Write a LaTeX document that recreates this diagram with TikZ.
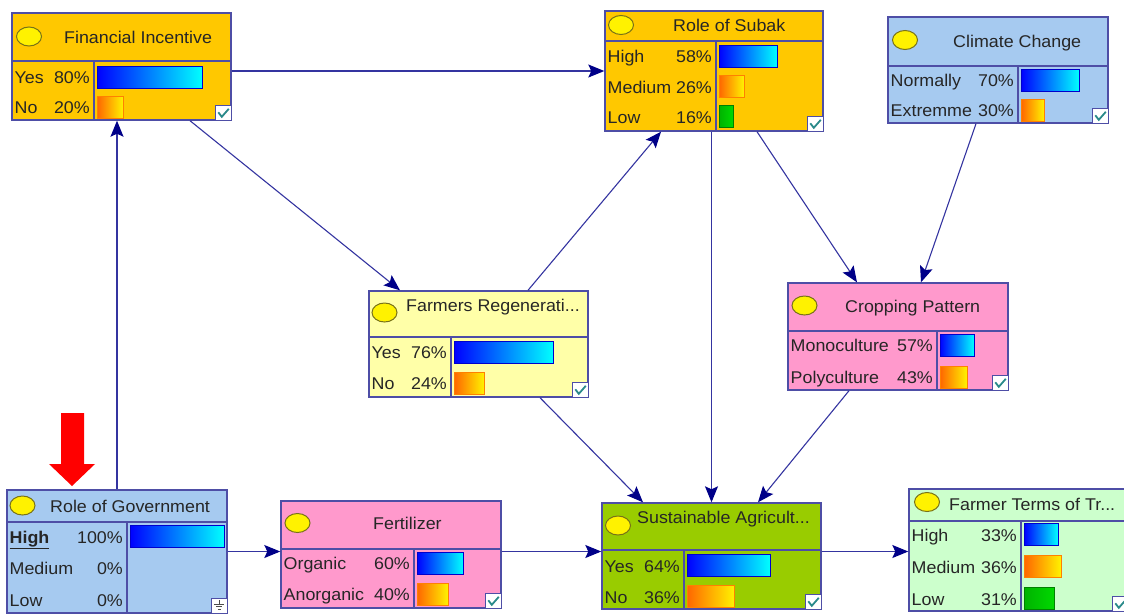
\documentclass[tikz,border=0pt]{standalone}
\usepackage{fontspec}
\setmainfont{Liberation Sans}[FakeStretch=1.05]
\usetikzlibrary{arrows.meta}

\definecolor{bngold}{HTML}{FFC800}
\definecolor{bnsky}{HTML}{A6CAF0}
\definecolor{bncream}{HTML}{FFFFA8}
\definecolor{bnpink}{HTML}{FF99CC}
\definecolor{bnlime}{HTML}{99CC00}
\definecolor{bnmint}{HTML}{CCFFCC}
\definecolor{bnframe}{HTML}{4E4EA6}
\definecolor{bnlink}{HTML}{3434A0}
\definecolor{bnhead}{HTML}{000088}
\definecolor{bntick}{HTML}{2A8A8A}

\newcommand\bnfont{\fontsize{17}{20}\selectfont}
\newcommand\bnsplit[3]{\draw[bnline] (#1.west |- 0,#2) -- (#1.east |- 0,#2) (#3,#2) -- (#3,0 |- #1.south);}
\newcommand\bnhead[6]{\draw[bnoval] (#2,#3) ellipse (12.5pt and 9.5pt);
  \node[bntext,anchor=west] (#1-t) at (#4,#5) {#6};}
\newcommand\bnstate[6]{\node[bntext,anchor=west] (#1) at (#2,#4) {#5};
  \node[bntext,anchor=east] (#1-p) at (#3,#4) {#6};}
\newcommand\bnbar[4]{\draw[#4] (#1,#2-11) rectangle ++(#3,22);}
\newcommand\bncheck[1]{\node[bnchk,anchor=south east] (#1-c) at (#1.south east) {};}

\tikzset{
  bnbox/.style={draw=bnframe,line width=1.4pt},
  bnline/.style={draw=bnframe,line width=1.4pt},
  bnoval/.style={draw=olive!80!black,fill=yellow,line width=1pt},
  bntext/.style={text=black!85,text height=12pt,text depth=0pt},
  barblue/.style={draw=blue!80!black,line width=.8pt,left color=blue,right color=cyan},
  barorange/.style={draw=orange,line width=.8pt,left color=orange!80!red,right color=yellow!90!orange},
  bargreen/.style={draw=green!50!black,line width=.8pt,left color=green!70!black,right color=green!85!black},
  bnchk/.style={draw=bnframe,fill=white,line width=.8pt,minimum width=16pt,minimum height=15pt,
    path picture={\draw[bntick,line width=1.8pt] ([shift={(3pt,8pt)}]path picture bounding box.south west)
      -- ++(3.5pt,-4.5pt) -- ++(7pt,8pt);}},
  bnground/.style={draw=bnframe,fill=white,line width=.8pt,minimum width=16pt,minimum height=15pt,
    path picture={\draw[black!70,line width=.8pt] ([shift={(8pt,13pt)}]path picture bounding box.south west)
      -- ++(0,-4pt) ++(-5pt,0) -- ++(10pt,0) ++(-8pt,-2.5pt) -- ++(6pt,0) ++(-4.5pt,-2.5pt) -- ++(3pt,0);}},
  link/.style={draw=bnlink,line width=1.1pt,-{Stealth[length=16pt,width=13pt,inset=3pt,color=bnhead]}}
}

\begin{document}
\begin{tikzpicture}[x=1pt,y=-1pt,
  every node/.style={inner sep=0pt,font=\bnfont}]
\useasboundingbox (0,0) rectangle (1124,614);

% Financial Incentive
\node[bnbox,fill=bngold,minimum width=219pt,minimum height=107pt] (fin) at (121.5,66.5) {};
\bnsplit{fin}{61}{94}
\bnhead{fin}{29}{36.5}{64}{37}{Financial Incentive}
\bnstate{fin-yes}{14.5}{90}{77}{Yes}{80\%}
\bnstate{fin-no}{14.5}{90}{107}{No}{20\%}
\bnbar{97}{77}{105}{barblue}
\bnbar{97}{107}{26}{barorange}
\bncheck{fin}

% Role of Subak
\node[bnbox,fill=bngold,minimum width=218pt,minimum height=120pt] (subak) at (714,71) {};
\bnsplit{subak}{41}{716}
\bnhead{subak}{621}{25}{673}{25}{Role of Subak}
\bnstate{subak-high}{607.5}{712}{56}{High}{58\%}
\bnstate{subak-med}{607.5}{712}{87}{Medium}{26\%}
\bnstate{subak-low}{607.5}{712}{117}{Low}{16\%}
\bnbar{719}{56}{58}{barblue}
\bnbar{719}{86}{25}{barorange}
\bnbar{719}{116.5}{14}{bargreen}
\bncheck{subak}

% Climate Change
\node[bnbox,fill=bnsky,minimum width=220pt,minimum height=106pt] (climate) at (998,70) {};
\bnsplit{climate}{66}{1018}
\bnhead{climate}{905}{40}{953}{41}{Climate Change}
\bnstate{climate-norm}{890.5}{1014}{80}{Normally}{70\%}
\bnstate{climate-ext}{890.5}{1014}{110}{Extremme}{30\%}
\bnbar{1021}{80}{58}{barblue}
\bnbar{1021}{110}{23}{barorange}
\bncheck{climate}

% Farmers Regeneration
\node[bnbox,fill=bncream,minimum width=219pt,minimum height=106pt] (farm) at (478.5,344) {};
\bnsplit{farm}{337}{451}
\bnhead{farm}{384.5}{312.5}{406}{305}{Farmers Regenerati...}
\bnstate{farm-yes}{371.5}{447}{352}{Yes}{76\%}
\bnstate{farm-no}{371.5}{447}{383}{No}{24\%}
\bnbar{454}{352}{99}{barblue}
\bnbar{454}{383}{30}{barorange}
\bncheck{farm}

% Cropping Pattern
\node[bnbox,fill=bnpink,minimum width=220pt,minimum height=107pt] (crop) at (898,336.5) {};
\bnsplit{crop}{331}{937}
\bnhead{crop}{804.5}{305.5}{845}{306}{Cropping Pattern}
\bnstate{crop-mono}{790.5}{933}{345}{Monoculture}{57\%}
\bnstate{crop-poly}{790.5}{933}{377}{Polyculture}{43\%}
\bnbar{940}{345}{34}{barblue}
\bnbar{940}{377}{27}{barorange}
\bncheck{crop}

% Role of Government
\node[bnbox,fill=bnsky,minimum width=220pt,minimum height=123pt] (gov) at (117,551.5) {};
\bnsplit{gov}{522}{127}
\bnhead{gov}{22.5}{505.5}{50}{506}{Role of Government}
\bnstate{gov-high}{9.5}{123}{537}{\underline{\textbf{High}}}{100\%}
\bnstate{gov-med}{9.5}{123}{568}{Medium}{0\%}
\bnstate{gov-low}{9.5}{123}{600}{Low}{0\%}
\bnbar{130}{536}{94}{barblue}
\node[bnground,anchor=south east] (gov-c) at (gov.south east) {};

% Fertilizer
\node[bnbox,fill=bnpink,minimum width=220pt,minimum height=107pt] (fert) at (391,554.5) {};
\bnsplit{fert}{549}{414}
\bnhead{fert}{297.5}{523}{373}{523}{Fertilizer}
\bnstate{fert-org}{283.5}{410}{563}{Organic}{60\%}
\bnstate{fert-anorg}{283.5}{410}{594}{Anorganic}{40\%}
\bnbar{417}{563}{46}{barblue}
\bnbar{417}{594}{31}{barorange}
\bncheck{fert}

% Sustainable Agriculture
\node[bnbox,fill=bnlime,minimum width=219pt,minimum height=106pt] (sust) at (711.5,556) {};
\bnsplit{sust}{550}{684}
\bnhead{sust}{618}{525.5}{637}{517}{Sustainable Agricult...}
\bnstate{sust-yes}{604.5}{680}{566}{Yes}{64\%}
\bnstate{sust-no}{604.5}{680}{597}{No}{36\%}
\bnbar{687}{565}{83}{barblue}
\bnbar{687}{596}{47}{barorange}
\bncheck{sust}

% Farmer Terms of Trade
\node[bnbox,fill=bnmint,minimum width=219pt,minimum height=122pt] (terms) at (1018.5,550) {};
\bnsplit{terms}{521}{1021}
\bnhead{terms}{927}{502}{949}{504}{Farmer Terms of Tr...}
\bnstate{terms-high}{911.5}{1017}{535}{High}{33\%}
\bnstate{terms-med}{911.5}{1017}{567}{Medium}{36\%}
\bnstate{terms-low}{911.5}{1017}{599}{Low}{31\%}
\bnbar{1024}{534}{34}{barblue}
\bnbar{1024}{566}{37}{barorange}
\bnbar{1024}{598}{30}{bargreen}
\bncheck{terms}

% links
\draw[link] (fin.east |- subak.west) -- (subak.west);
\draw[link] ([xshift=68.5pt]fin.south) -- ([xshift=-78.5pt]farm.north);
\draw[link] (gov.north) -- (gov.north |- fin.south);
\draw[link] ([xshift=49.5pt]farm.north) -- ([xshift=-53pt]subak.south);
\draw[link] ([xshift=43pt]subak.south) -- ([xshift=-41pt]crop.north);
\draw[link] ([xshift=-22pt]climate.south) -- ([xshift=23pt]crop.north);
\draw[link] (sust.north |- subak.south) -- (sust.north);
\draw[link] ([xshift=61.5pt]farm.south) -- ([xshift=-68.5pt]sust.north);
\draw[link] ([xshift=-49pt]crop.south) -- ([xshift=46.5pt]sust.north);
\draw[link] (gov.east) -- (gov.east -| fert.west);
\draw[link] (fert.east |- gov.east) -- (sust.west |- gov.east);
\draw[link] (sust.east |- gov.east) -- (terms.west |- gov.east);

% evidence marker
\fill[red] (61,413) -- (84,413) -- (84,464) -- (95,464) -- (72,486) -- (49,464) -- (61,464) -- cycle;
\end{tikzpicture}
\end{document}
